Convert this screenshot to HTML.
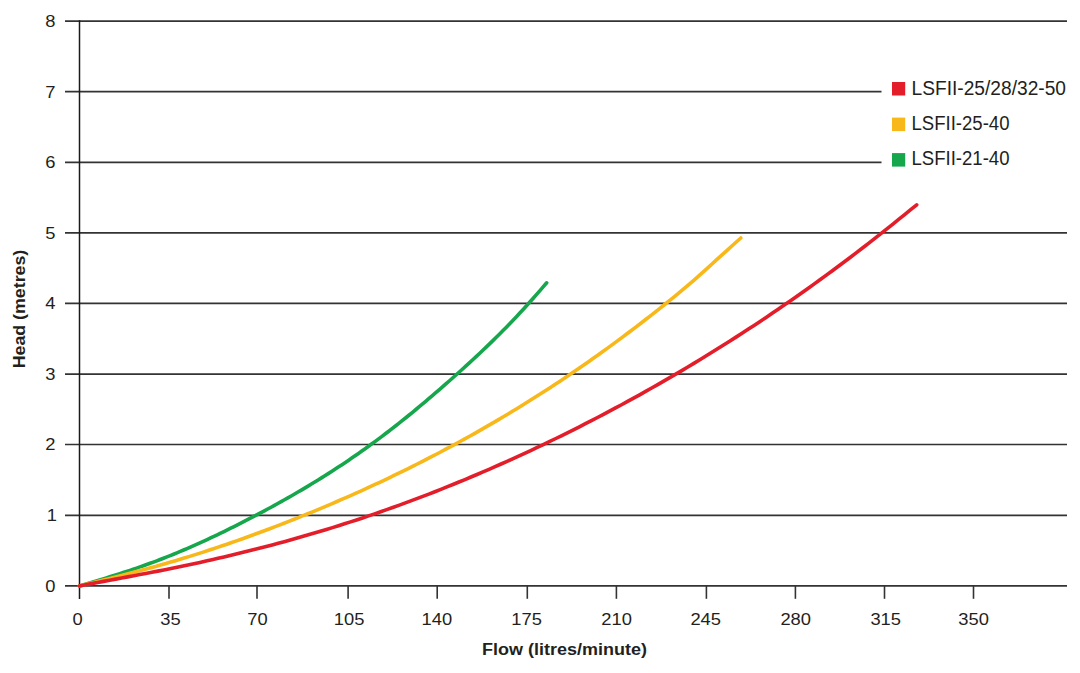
<!DOCTYPE html>
<html><head><meta charset="utf-8"><style>
html,body{margin:0;padding:0;background:#fff;width:1080px;height:673px;overflow:hidden}
svg{display:block}
.lab{font-family:"Liberation Sans",sans-serif;font-size:17px;fill:#231f20}
.ttl{font-family:"Liberation Sans",sans-serif;font-size:16.8px;font-weight:bold;fill:#231f20}
.leg{font-family:"Liberation Sans",sans-serif;font-size:19.5px;fill:#231f20}
</style></head><body>
<svg width="1080" height="673" viewBox="0 0 1080 673">
<rect width="1080" height="673" fill="#fff"/>
<line x1="65" y1="585.9" x2="1067" y2="585.9" stroke="#333333" stroke-width="1.7"/>
<line x1="65" y1="515.3" x2="1067" y2="515.3" stroke="#333333" stroke-width="1.7"/>
<line x1="65" y1="444.5" x2="1067" y2="444.5" stroke="#333333" stroke-width="1.7"/>
<line x1="65" y1="374.1" x2="1067" y2="374.1" stroke="#333333" stroke-width="1.7"/>
<line x1="65" y1="303.4" x2="1067" y2="303.4" stroke="#333333" stroke-width="1.7"/>
<line x1="65" y1="232.8" x2="1067" y2="232.8" stroke="#333333" stroke-width="1.7"/>
<line x1="65" y1="162.3" x2="881.5" y2="162.3" stroke="#333333" stroke-width="1.7"/>
<line x1="65" y1="91.6" x2="881.5" y2="91.6" stroke="#333333" stroke-width="1.7"/>
<line x1="65" y1="21.2" x2="1067" y2="21.2" stroke="#333333" stroke-width="1.7"/>
<line x1="79.5" y1="20.2" x2="79.5" y2="599" stroke="#1a1a1a" stroke-width="1.5"/>
<line x1="169.0" y1="586" x2="169.0" y2="598.8" stroke="#333333" stroke-width="1.6"/>
<line x1="257.0" y1="586" x2="257.0" y2="598.8" stroke="#333333" stroke-width="1.6"/>
<line x1="348.1" y1="586" x2="348.1" y2="598.8" stroke="#333333" stroke-width="1.6"/>
<line x1="437.2" y1="586" x2="437.2" y2="598.8" stroke="#333333" stroke-width="1.6"/>
<line x1="527.3" y1="586" x2="527.3" y2="598.8" stroke="#333333" stroke-width="1.6"/>
<line x1="616.4" y1="586" x2="616.4" y2="598.8" stroke="#333333" stroke-width="1.6"/>
<line x1="706.4" y1="586" x2="706.4" y2="598.8" stroke="#333333" stroke-width="1.6"/>
<line x1="795.4" y1="586" x2="795.4" y2="598.8" stroke="#333333" stroke-width="1.6"/>
<line x1="884.5" y1="586" x2="884.5" y2="598.8" stroke="#333333" stroke-width="1.6"/>
<line x1="973.5" y1="586" x2="973.5" y2="598.8" stroke="#333333" stroke-width="1.6"/>
<text transform="translate(50.30,591.80) scale(1.08,1)" text-anchor="middle" class="lab">0</text>
<text transform="translate(51.80,521.20) scale(1.08,1)" text-anchor="middle" class="lab">1</text>
<text transform="translate(50.30,450.40) scale(1.08,1)" text-anchor="middle" class="lab">2</text>
<text transform="translate(50.30,380.00) scale(1.08,1)" text-anchor="middle" class="lab">3</text>
<text transform="translate(50.30,309.30) scale(1.08,1)" text-anchor="middle" class="lab">4</text>
<text transform="translate(50.30,238.70) scale(1.08,1)" text-anchor="middle" class="lab">5</text>
<text transform="translate(50.30,168.20) scale(1.08,1)" text-anchor="middle" class="lab">6</text>
<text transform="translate(50.30,97.50) scale(1.08,1)" text-anchor="middle" class="lab">7</text>
<text transform="translate(50.30,27.10) scale(1.08,1)" text-anchor="middle" class="lab">8</text>
<text transform="translate(77.50,624.9) scale(1.08,1)" text-anchor="middle" class="lab">0</text>
<text transform="translate(170.45,624.9) scale(1.08,1)" text-anchor="middle" class="lab">35</text>
<text transform="translate(257.55,624.9) scale(1.08,1)" text-anchor="middle" class="lab">70</text>
<text transform="translate(349.10,624.9) scale(1.08,1)" text-anchor="middle" class="lab">105</text>
<text transform="translate(436.80,624.9) scale(1.08,1)" text-anchor="middle" class="lab">140</text>
<text transform="translate(526.60,624.9) scale(1.08,1)" text-anchor="middle" class="lab">175</text>
<text transform="translate(616.55,624.9) scale(1.08,1)" text-anchor="middle" class="lab">210</text>
<text transform="translate(705.70,624.9) scale(1.08,1)" text-anchor="middle" class="lab">245</text>
<text transform="translate(795.70,624.9) scale(1.08,1)" text-anchor="middle" class="lab">280</text>
<text transform="translate(885.70,624.9) scale(1.08,1)" text-anchor="middle" class="lab">315</text>
<text transform="translate(973.65,624.9) scale(1.08,1)" text-anchor="middle" class="lab">350</text>
<text x="482" y="654.7" class="ttl" textLength="165" lengthAdjust="spacingAndGlyphs">Flow (litres/minute)</text>
<text transform="translate(24.8,368.3) rotate(-90)" x="0" y="0" class="ttl" textLength="118.6" lengthAdjust="spacingAndGlyphs">Head (metres)</text>
<path d="M79.50,585.90 L82.86,584.91 L86.22,583.91 L89.58,582.92 L92.94,581.92 L96.31,580.91 L99.67,579.90 L103.03,578.89 L106.39,577.86 L109.75,576.83 L113.11,575.78 L116.47,574.72 L119.83,573.65 L123.19,572.57 L126.56,571.47 L129.92,570.36 L133.28,569.22 L136.64,568.08 L140.00,566.91 L143.36,565.73 L146.72,564.53 L150.08,563.31 L153.45,562.07 L156.81,560.82 L160.17,559.54 L163.53,558.24 L166.89,556.91 L170.25,555.57 L173.61,554.21 L176.97,552.83 L180.33,551.42 L183.70,550.00 L187.06,548.56 L190.42,547.10 L193.78,545.62 L197.14,544.13 L200.50,542.61 L203.86,541.08 L207.22,539.53 L210.58,537.96 L213.95,536.38 L217.31,534.78 L220.67,533.17 L224.03,531.54 L227.39,529.89 L230.75,528.23 L234.11,526.55 L237.47,524.86 L240.84,523.16 L244.20,521.44 L247.56,519.70 L250.92,517.96 L254.28,516.20 L257.64,514.43 L261.00,512.64 L264.36,510.85 L267.72,509.04 L271.09,507.21 L274.45,505.37 L277.81,503.52 L281.17,501.65 L284.53,499.76 L287.89,497.86 L291.25,495.94 L294.61,494.01 L297.97,492.05 L301.34,490.08 L304.70,488.09 L308.06,486.09 L311.42,484.06 L314.78,482.01 L318.14,479.95 L321.50,477.86 L324.86,475.75 L328.23,473.63 L331.59,471.48 L334.95,469.30 L338.31,467.11 L341.67,464.89 L345.03,462.65 L348.39,460.39 L351.75,458.10 L355.11,455.78 L358.48,453.44 L361.84,451.08 L365.20,448.69 L368.56,446.27 L371.92,443.83 L375.28,441.36 L378.64,438.86 L382.00,436.34 L385.36,433.79 L388.73,431.22 L392.09,428.62 L395.45,425.99 L398.81,423.34 L402.17,420.67 L405.53,417.98 L408.89,415.26 L412.25,412.52 L415.62,409.76 L418.98,406.97 L422.34,404.17 L425.70,401.34 L429.06,398.49 L432.42,395.62 L435.78,392.74 L439.14,389.83 L442.50,386.90 L445.87,383.96 L449.23,381.00 L452.59,378.02 L455.95,375.02 L459.31,372.01 L462.67,368.97 L466.03,365.92 L469.39,362.85 L472.75,359.75 L476.12,356.63 L479.48,353.49 L482.84,350.31 L486.20,347.11 L489.56,343.87 L492.92,340.60 L496.28,337.30 L499.64,333.96 L503.01,330.59 L506.37,327.17 L509.73,323.72 L513.09,320.22 L516.45,316.67 L519.81,313.08 L523.17,309.45 L526.53,305.76 L529.89,302.02 L533.26,298.24 L536.62,294.41 L539.98,290.56 L543.34,286.68 L546.70,282.80" fill="none" stroke="#16a64c" stroke-width="3.6" stroke-linecap="round" stroke-linejoin="round"/>
<path d="M79.50,585.90 L84.26,584.74 L89.02,583.58 L93.77,582.42 L98.53,581.25 L103.29,580.08 L108.05,578.90 L112.80,577.72 L117.56,576.52 L122.32,575.31 L127.08,574.09 L131.83,572.85 L136.59,571.60 L141.35,570.34 L146.11,569.05 L150.86,567.75 L155.62,566.43 L160.38,565.09 L165.14,563.73 L169.89,562.35 L174.65,560.95 L179.41,559.53 L184.17,558.08 L188.92,556.62 L193.68,555.13 L198.44,553.63 L203.20,552.10 L207.95,550.56 L212.71,549.00 L217.47,547.41 L222.23,545.81 L226.98,544.19 L231.74,542.55 L236.50,540.88 L241.26,539.20 L246.01,537.50 L250.77,535.79 L255.53,534.05 L260.29,532.29 L265.04,530.52 L269.80,528.73 L274.56,526.92 L279.32,525.09 L284.07,523.24 L288.83,521.38 L293.59,519.50 L298.35,517.60 L303.11,515.68 L307.86,513.75 L312.62,511.80 L317.38,509.83 L322.14,507.84 L326.89,505.83 L331.65,503.81 L336.41,501.77 L341.17,499.70 L345.92,497.62 L350.68,495.53 L355.44,493.41 L360.20,491.27 L364.95,489.11 L369.71,486.93 L374.47,484.73 L379.23,482.52 L383.98,480.28 L388.74,478.02 L393.50,475.74 L398.26,473.44 L403.01,471.11 L407.77,468.77 L412.53,466.40 L417.29,464.01 L422.04,461.60 L426.80,459.17 L431.56,456.72 L436.32,454.24 L441.07,451.74 L445.83,449.21 L450.59,446.67 L455.35,444.09 L460.10,441.50 L464.86,438.88 L469.62,436.24 L474.38,433.57 L479.13,430.88 L483.89,428.16 L488.65,425.42 L493.41,422.65 L498.16,419.86 L502.92,417.04 L507.68,414.20 L512.44,411.33 L517.19,408.43 L521.95,405.51 L526.71,402.56 L531.47,399.58 L536.23,396.57 L540.98,393.54 L545.74,390.48 L550.50,387.40 L555.26,384.28 L560.01,381.14 L564.77,377.96 L569.53,374.76 L574.29,371.53 L579.04,368.27 L583.80,364.98 L588.56,361.66 L593.32,358.32 L598.07,354.94 L602.83,351.53 L607.59,348.10 L612.35,344.63 L617.10,341.13 L621.86,337.61 L626.62,334.05 L631.38,330.47 L636.13,326.85 L640.89,323.21 L645.65,319.53 L650.41,315.82 L655.16,312.09 L659.92,308.32 L664.68,304.52 L669.44,300.69 L674.19,296.83 L678.95,292.92 L683.71,288.96 L688.47,284.94 L693.22,280.85 L697.98,276.69 L702.74,272.45 L707.50,268.14 L712.25,263.79 L717.01,259.43 L721.77,255.09 L726.53,250.79 L731.28,246.51 L736.04,242.25 L740.80,238.00" fill="none" stroke="#f9b81a" stroke-width="3.6" stroke-linecap="round" stroke-linejoin="round"/>
<path d="M79.50,585.90 L85.52,584.77 L91.55,583.64 L97.57,582.50 L103.59,581.37 L109.62,580.24 L115.64,579.12 L121.66,577.99 L127.68,576.86 L133.71,575.73 L139.73,574.60 L145.75,573.46 L151.78,572.30 L157.80,571.13 L163.82,569.94 L169.85,568.74 L175.87,567.51 L181.89,566.26 L187.91,564.99 L193.94,563.70 L199.96,562.39 L205.98,561.06 L212.01,559.70 L218.03,558.33 L224.05,556.93 L230.08,555.51 L236.10,554.06 L242.12,552.60 L248.14,551.10 L254.17,549.59 L260.19,548.05 L266.21,546.49 L272.24,544.90 L278.26,543.29 L284.28,541.65 L290.31,539.99 L296.33,538.30 L302.35,536.58 L308.37,534.84 L314.40,533.07 L320.42,531.28 L326.44,529.45 L332.47,527.60 L338.49,525.73 L344.51,523.82 L350.54,521.88 L356.56,519.92 L362.58,517.93 L368.61,515.91 L374.63,513.85 L380.65,511.77 L386.67,509.66 L392.70,507.52 L398.72,505.35 L404.74,503.15 L410.77,500.93 L416.79,498.67 L422.81,496.38 L428.84,494.06 L434.86,491.72 L440.88,489.34 L446.90,486.94 L452.93,484.51 L458.95,482.04 L464.97,479.55 L471.00,477.03 L477.02,474.49 L483.04,471.91 L489.07,469.30 L495.09,466.67 L501.11,464.00 L507.13,461.31 L513.16,458.59 L519.18,455.84 L525.20,453.06 L531.23,450.26 L537.25,447.42 L543.27,444.56 L549.30,441.67 L555.32,438.75 L561.34,435.80 L567.36,432.83 L573.39,429.82 L579.41,426.79 L585.43,423.72 L591.46,420.63 L597.48,417.51 L603.50,414.35 L609.53,411.17 L615.55,407.96 L621.57,404.72 L627.59,401.44 L633.62,398.14 L639.64,394.81 L645.66,391.44 L651.69,388.04 L657.71,384.62 L663.73,381.16 L669.76,377.67 L675.78,374.15 L681.80,370.59 L687.83,367.01 L693.85,363.39 L699.87,359.74 L705.89,356.06 L711.92,352.34 L717.94,348.59 L723.96,344.81 L729.99,340.99 L736.01,337.14 L742.03,333.26 L748.06,329.34 L754.08,325.39 L760.10,321.40 L766.12,317.38 L772.15,313.32 L778.17,309.23 L784.19,305.10 L790.22,300.93 L796.24,296.73 L802.26,292.49 L808.29,288.22 L814.31,283.91 L820.33,279.56 L826.35,275.17 L832.38,270.75 L838.40,266.28 L844.42,261.78 L850.45,257.24 L856.47,252.65 L862.49,248.03 L868.52,243.37 L874.54,238.66 L880.56,233.92 L886.58,229.13 L892.61,224.31 L898.63,219.46 L904.65,214.58 L910.68,209.70 L916.70,204.80" fill="none" stroke="#e31e2a" stroke-width="3.6" stroke-linecap="round" stroke-linejoin="round"/>
<rect x="892" y="82" width="13.2" height="13.5" fill="#e31e2a"/>
<text x="911.5" y="94.9" class="leg" textLength="154.5" lengthAdjust="spacingAndGlyphs">LSFII-25/28/32-50</text>
<rect x="892" y="117.6" width="13.2" height="13.5" fill="#f9b81a"/>
<text x="911.5" y="130.0" class="leg" textLength="98" lengthAdjust="spacingAndGlyphs">LSFII-25-40</text>
<rect x="892" y="153.1" width="13.2" height="13.5" fill="#16a64c"/>
<text x="911.5" y="165.2" class="leg" textLength="98" lengthAdjust="spacingAndGlyphs">LSFII-21-40</text>
</svg>
</body></html>
